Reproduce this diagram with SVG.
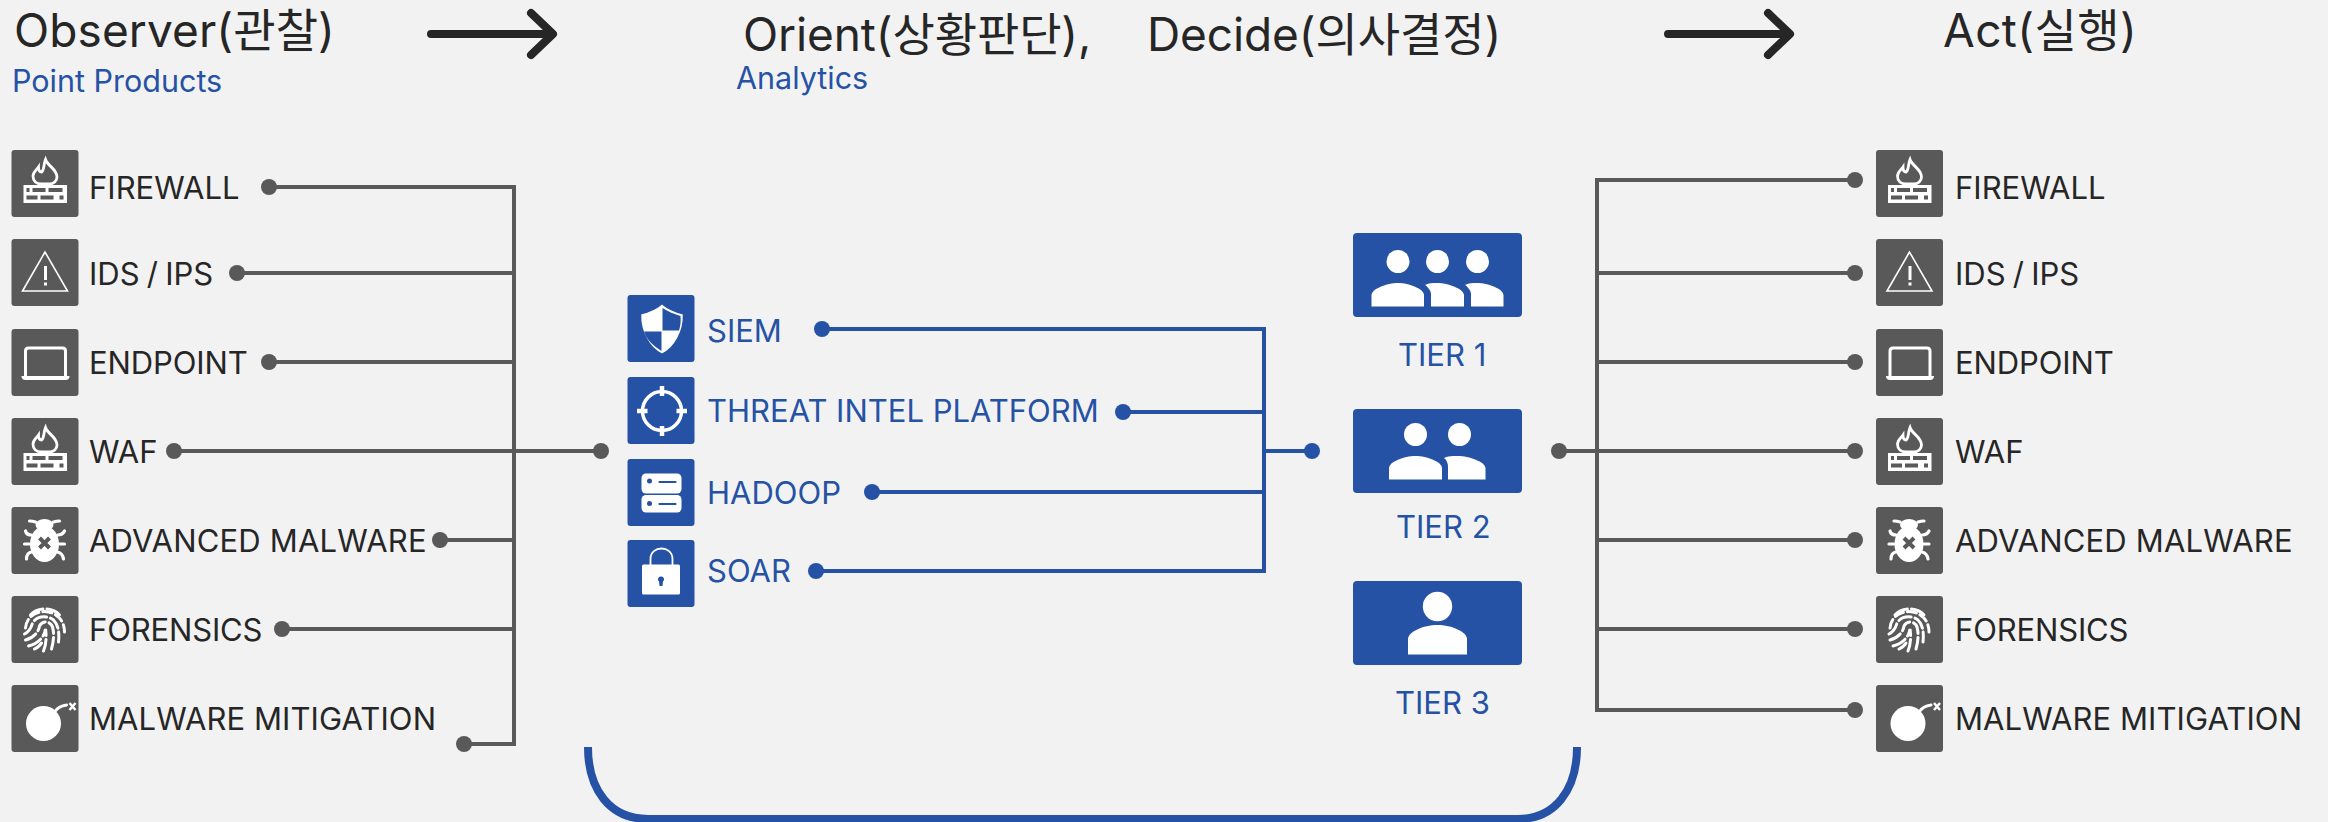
<svg xmlns="http://www.w3.org/2000/svg" xmlns:xlink="http://www.w3.org/1999/xlink" width="2328" height="822" viewBox="0 0 2328 822">
<style>
text{font-family:Inter,"Noto Sans CJK KR",sans-serif}
.h{font-size:46px;fill:#262626}
.sb{font-size:30.500px;fill:#2552a5}
.g{font-size:31px;fill:#262626}
.b{font-size:31px;fill:#2552a5}
.gl{fill:none;stroke:#595959;stroke-width:4}
.bl{fill:none;stroke:#2552a5;stroke-width:4}
.gd{fill:#595959}
.bd{fill:#2552a5}
.ar{fill:none;stroke:#262626;stroke-width:8;stroke-linecap:round;stroke-linejoin:round}
.w{fill:#fff}
.ws{fill:none;stroke:#fff}
.t-ids{word-spacing:-1.500px}
.t-end{letter-spacing:-.12px}
.t-mal{letter-spacing:.19px}
.t-for{letter-spacing:-.15px}
.t-mit{letter-spacing:.08px}
</style>
<defs>
<g id="i-fire">
<rect width="67" height="67" rx="3" fill="#595959"/>
<path class="ws" stroke-width="2.800" d="M34 9.500C36 16 45.500 19 45.500 27C45.500 31 42 34 38 34H30C25 34 21.500 31 21.500 26C21.500 22 25 20 27 17C27 20 28 22 30 22C33 20 32 14 34 9.500Z"/>
<rect class="w" x="12" y="35" width="43.500" height="18"/>
<g fill="#595959"><rect x="15" y="38" width="3" height="4"/><rect x="21" y="38" width="13" height="4"/><rect x="37" y="38" width="14" height="4"/><rect x="15" y="45.500" width="11" height="4"/><rect x="29" y="45.500" width="13" height="4"/><rect x="48" y="45.500" width="4" height="4"/></g>
</g>
<g id="i-warn">
<rect width="67" height="67" rx="3" fill="#595959"/>
<path class="ws" stroke-width="1.600" d="M33.500 13L11 52H56Z"/>
<path class="ws" stroke-width="3" d="M34 27V41M34 43.500V46.500"/>
</g>
<g id="i-laptop">
<rect width="67" height="67" rx="3" fill="#595959"/>
<path class="ws" stroke-width="3" d="M14 48V22Q14 19 17 19H51Q54 19 54 22V48"/>
<path class="w" d="M10 47H58Q58 51 54 51H14Q10 51 10 47Z"/>
</g>
<g id="i-bug">
<rect width="67" height="67" rx="3" fill="#595959"/>
<ellipse class="w" cx="33" cy="37" rx="14.500" ry="18"/>
<ellipse class="w" cx="33" cy="18" rx="9" ry="6"/>
<path class="ws" stroke-width="3.200" stroke-linecap="round" d="M24 15Q21 14 18 14M42 15Q45 14 48 14M20 28Q15 28 14 24M46 28Q51 28 53 24M18 37H13M48 37H53M20 45Q15 46 15 52M46 45Q51 46 52 52"/>
<path stroke="#595959" stroke-width="4" d="M28 31L38 41M38 31L28 41"/>
</g>
<g id="i-finger">
<rect width="67" height="67" rx="3" fill="#595959"/>
<g stroke-width="3" stroke-linecap="round" fill="none" stroke="#fff">
<path d="M19 19C26 11 41 11 48 19" stroke-dasharray="14 4"/>
<path d="M14 32C15 20 26 14 37 16C47 18 53 26 53 36" stroke-dasharray="9 4"/>
<path d="M13 38C17 36 20 31 21 27C25 20 36 19 42 24C47 29 48 37 47 46" stroke-dasharray="13 4"/>
<path d="M14 44C21 42 27 37 28 30C31 24 39 25 41 31C43 38 42 46 40 53" stroke-dasharray="12 4"/>
<path d="M17 50C25 48 33 42 34 33C35 40 35 48 32 55" stroke-dasharray="14 4"/>
<path d="M23 53C27 51 29 49 30 47"/>
</g>
</g>
<g id="i-bomb">
<rect width="67" height="67" rx="3" fill="#595959"/>
<circle class="w" cx="32" cy="38.500" r="17.500"/>
<path class="ws" stroke-width="3" stroke-linecap="round" d="M43 27Q47 21 55 20"/>
<path class="ws" stroke-width="2.500" d="M58 18L64 25M64 18L58 25"/>
</g>
<g id="i-shield">
<rect width="67" height="67" rx="3" fill="#2552a5"/>
<path class="w" stroke="#fff" stroke-width="1.500" d="M34.500 10.500C40 15 47 18 54.500 20C55 36 46 52 34.500 57.500C23 52 14 36 14.500 20C22 18 29 15 34.500 10.500Z"/>
<path fill="#2552a5" d="M35 13C40 16 46 19 53 21C53.500 26 53 31 51.500 35.500H35ZM34 36.500V56C26 51 19 45 16.500 36.500Z"/>
</g>
<g id="i-target">
<rect width="67" height="67" rx="3" fill="#2552a5"/>
<circle class="ws" cx="34.500" cy="34" r="19.500" stroke-width="3.500"/>
<path class="ws" stroke-width="4.500" d="M34.500 9V19M34.500 49V59M9.500 34H20M49 34H59.500"/>
</g>
<g id="i-server">
<rect width="67" height="67" rx="3" fill="#2552a5"/>
<rect class="w" x="14" y="14.500" width="40" height="20" rx="4.500"/>
<rect class="w" x="14" y="36" width="40" height="17.500" rx="4.500"/>
<circle class="bd" cx="22" cy="22" r="2.500"/><circle class="bd" cx="22" cy="44.500" r="2.500"/>
<path stroke="#2552a5" stroke-width="2.200" stroke-linecap="round" d="M32 23H48M32 45H48"/>
</g>
<g id="i-lock">
<rect width="67" height="67" rx="3" fill="#2552a5"/>
<path class="ws" stroke-width="1.800" d="M23 26V19C23 5 45 5 45 19V26"/>
<rect class="w" x="14.500" y="24.500" width="38" height="30" rx="1.500"/>
<path class="bd" d="M33.500 36.500a2.800 2.800 0 0 1 2 5L35 46H32L31.500 41.500a2.800 2.800 0 0 1 2-5Z"/>
</g>
</defs>
<rect width="2328" height="822" fill="#f2f2f2"/>

<g id="connectors">
<path class="gl" d="M269 187H514V744H464M237 273H514M269 362H514M174 451H601M440 540H514M282 629H514"/>
<path class="gl" d="M1855 180H1597V710H1855M1855 273H1597M1855 362H1597M1559 451H1855M1855 540H1597M1855 629H1597"/>
<path class="bl" d="M822 329H1264V571H816M1123 412H1264M872 492H1264M1264 451H1312"/>
<g class="gd"><circle cx="269" cy="187" r="8"/><circle cx="237" cy="273" r="8"/><circle cx="269" cy="362" r="8"/><circle cx="174" cy="451" r="8"/><circle cx="440" cy="540" r="8"/><circle cx="282" cy="629" r="8"/><circle cx="464" cy="744" r="8"/><circle cx="601" cy="451" r="8"/><circle cx="1559" cy="451" r="8"/>
<circle cx="1855" cy="180" r="8"/><circle cx="1855" cy="273" r="8"/><circle cx="1855" cy="362" r="8"/><circle cx="1855" cy="451" r="8"/><circle cx="1855" cy="540" r="8"/><circle cx="1855" cy="629" r="8"/><circle cx="1855" cy="710" r="8"/></g>
<g class="bd"><circle cx="822" cy="329" r="8"/><circle cx="1123" cy="412" r="8"/><circle cx="872" cy="492" r="8"/><circle cx="816" cy="571" r="8"/><circle cx="1312" cy="451" r="8"/></g>
<path class="ar" d="M431 34H551M531 13L553 34L531 55"/>
<path class="ar" d="M1668 34H1789M1768 13L1790 34L1768 55"/>
<path fill="none" stroke="#2552a5" stroke-width="8" d="M588 747C588 790 610 819 648 819H1518C1555 819 1577 790 1577 747"/>
</g>

<g id="titles">
<text class="h" x="14" y="47" style="letter-spacing:.1px">Observer(관찰)</text>
<text class="sb" x="12" y="92">Point Products</text>
<text class="h" x="743" y="51" style="letter-spacing:-.1px">Orient(상황판단),</text>
<text class="sb" x="736" y="89">Analytics</text>
<text class="h" x="1147" y="51" style="letter-spacing:-.1px">Decide(의사결정)</text>
<text class="h" x="1943" y="47" style="letter-spacing:.4px">Act(실행)</text>
</g>

<g id="left-firewall"><use href="#i-fire" x="11.500" y="150"/><text class="g" x="89" y="199">FIREWALL</text></g>
<g id="left-ids"><use href="#i-warn" x="11.500" y="239"/><text class="g t-ids" x="89" y="285">IDS / IPS</text></g>
<g id="left-endpoint"><use href="#i-laptop" x="11.500" y="329"/><text class="g t-end" x="89" y="374">ENDPOINT</text></g>
<g id="left-waf"><use href="#i-fire" x="11.500" y="418"/><text class="g" x="89" y="463">WAF</text></g>
<g id="left-malware"><use href="#i-bug" x="11.500" y="507"/><text class="g t-mal" x="89" y="552">ADVANCED MALWARE</text></g>
<g id="left-forensics"><use href="#i-finger" x="11.500" y="596"/><text class="g t-for" x="89" y="641">FORENSICS</text></g>
<g id="left-mitigation"><use href="#i-bomb" x="11.500" y="685"/><text class="g t-mit" x="89" y="730">MALWARE MITIGATION</text></g>

<g id="siem"><use href="#i-shield" x="627.500" y="295"/><text class="b" x="707" y="342">SIEM</text></g>
<g id="tip"><use href="#i-target" x="627.500" y="377"/><text class="b" x="707" y="422">THREAT INTEL PLATFORM</text></g>
<g id="hadoop"><use href="#i-server" x="627.500" y="459"/><text class="b" x="707" y="504">HADOOP</text></g>
<g id="soar"><use href="#i-lock" x="627.500" y="540"/><text class="b" x="707" y="582">SOAR</text></g>

<g id="tier1"><rect class="bd" x="1353" y="233" width="169" height="84" rx="4"/>
<g class="w"><circle cx="1398" cy="261.500" r="11.500"/><circle cx="1437.500" cy="261.500" r="11.500"/><circle cx="1477.500" cy="261.500" r="11.500"/>
<path d="M1371.500 306.500V295C1371.500 289 1387 283 1398 283C1409 283 1424 289 1424 295V306.500Z"/>
<path d="M1425 285C1429 283 1433 283 1437 283C1448 283 1464 289 1464 295V306.500H1431V294C1431 291 1428 287 1425 285Z"/>
<path d="M1465 285C1469 283 1473 283 1477 283C1488 283 1503.500 289 1503.500 295V306.500H1471V294C1471 291 1468 287 1465 285Z"/></g>
<text class="b" x="1398" y="366">TIER 1</text></g>
<g id="tier2"><rect class="bd" x="1353" y="409" width="169" height="84" rx="4"/>
<g class="w"><circle cx="1415.500" cy="434.500" r="11.500"/><circle cx="1459.500" cy="434.500" r="11.500"/>
<path d="M1389 479.500V468C1389 462 1404 456 1415.500 456C1427 456 1442 462 1442 468V479.500Z"/>
<path d="M1444 458C1448 456 1452 456 1458 456C1469 456 1485.500 462 1485.500 468V479.500H1448V467C1448 464 1447 460 1444 458Z"/></g>
<text class="b" x="1396" y="538">TIER 2</text></g>
<g id="tier3"><rect class="bd" x="1353" y="581" width="169" height="84" rx="4"/>
<g class="w"><circle cx="1437.500" cy="606.500" r="14.700"/>
<path d="M1408 654.500V639C1408 632 1423 625 1437.500 625C1452 625 1467 632 1467 639V654.500Z"/></g>
<text class="b" x="1395" y="714">TIER 3</text></g>

<g id="right-firewall"><use href="#i-fire" x="1876" y="150"/><text class="g" x="1955" y="199">FIREWALL</text></g>
<g id="right-ids"><use href="#i-warn" x="1876" y="239"/><text class="g t-ids" x="1955" y="285">IDS / IPS</text></g>
<g id="right-endpoint"><use href="#i-laptop" x="1876" y="329"/><text class="g t-end" x="1955" y="374">ENDPOINT</text></g>
<g id="right-waf"><use href="#i-fire" x="1876" y="418"/><text class="g" x="1955" y="463">WAF</text></g>
<g id="right-malware"><use href="#i-bug" x="1876" y="507"/><text class="g t-mal" x="1955" y="552">ADVANCED MALWARE</text></g>
<g id="right-forensics"><use href="#i-finger" x="1876" y="596"/><text class="g t-for" x="1955" y="641">FORENSICS</text></g>
<g id="right-mitigation"><use href="#i-bomb" x="1876" y="685"/><text class="g t-mit" x="1955" y="730">MALWARE MITIGATION</text></g>
</svg>
